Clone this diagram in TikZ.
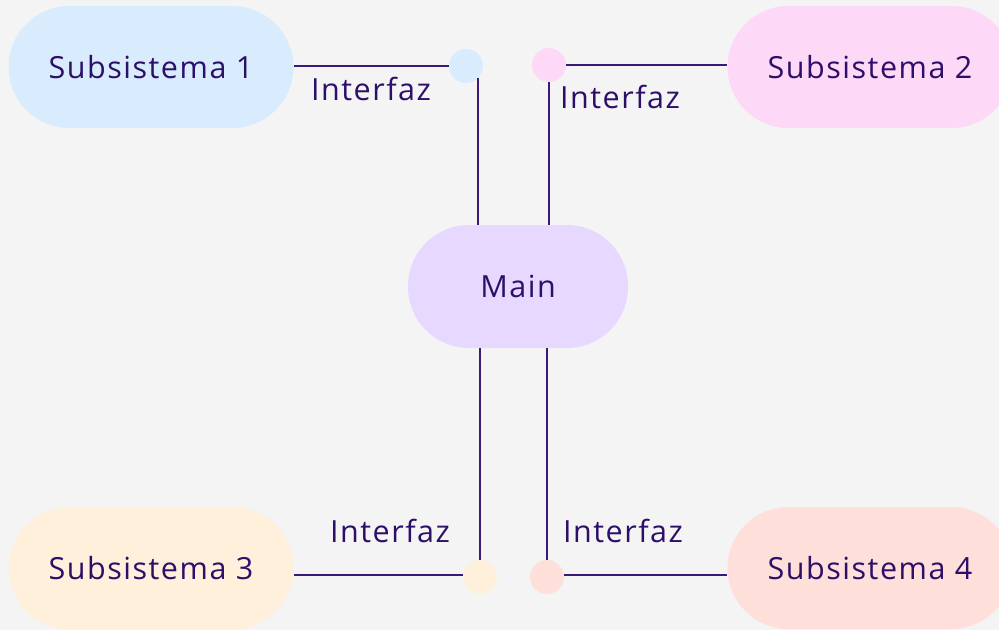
\documentclass[tikz,border=0pt]{standalone}
\usepackage{fontspec}
\setmainfont{Open Sans}[LetterSpace=5]
\begin{document}
\begin{tikzpicture}[x=1pt,y=-1pt,
  txt/.style={text=textc,font=\fontsize{30.5}{35}\selectfont},
  pill/.style={txt,rectangle,rounded corners=61pt,minimum width=285pt,minimum height=122pt,inner sep=0pt},
  dot/.style={circle,minimum size=34pt,inner sep=0pt},
  conn/.style={draw=linec,line width=2pt},
  lab/.style={txt,inner sep=0pt}]
\definecolor{bgc}{HTML}{F4F4F4}
\definecolor{textc}{HTML}{2D0F6A}
\definecolor{linec}{HTML}{3A1A78}
\definecolor{c1}{HTML}{D8ECFD}
\definecolor{c2}{HTML}{FDD8F7}
\definecolor{cm}{HTML}{E6D8FF}
\definecolor{c3}{HTML}{FEF0DB}
\definecolor{c4}{HTML}{FEDFDA}
\fill[bgc] (0,0) rectangle (999,630);
\useasboundingbox (0,0) rectangle (999,630);
% nodes
\node[pill,fill=c1] (s1) at (151,67) {Subsistema 1};
\node[pill,fill=c2] (s2) at (870,67) {Subsistema 2};
\node[pill,fill=c3] (s3) at (151,568) {Subsistema 3};
\node[pill,fill=c4] (s4) at (870,568) {Subsistema 4};
\node[pill,fill=cm,minimum width=220pt,minimum height=123pt,rounded corners=61pt] (m) at (518,286.5) {Main};
\node[dot,fill=c1] (d1) at (466,66) {};
\node[dot,fill=c2] (d2) at (549,65) {};
\node[dot,fill=c3] (d3) at (480,577) {};
\node[dot,fill=c4] (d4) at (547,577) {};
% labels
\node[lab] (l1) at (371,89) {Interfaz};
\node[lab] (l2) at (620,97) {Interfaz};
\node[lab] (l3) at (390,531) {Interfaz};
\node[lab] (l4) at (623,531) {Interfaz};
% connectors
\draw[conn] (s1.east |- d1.west) -- (d1.west);
\draw[conn] (d1.-45) -- (d1.-45 |- m.north);
\draw[conn] (d2.east) -- (d2.east -| s2.west);
\draw[conn] (d2.south) -- (d2.south |- m.north);
\draw[conn] ([yshift=2pt]d3.west) -- ([yshift=2pt]d3.west -| s3.east);
\draw[conn] (d3.north |- m.south) -- (d3.north);
\draw[conn] ([yshift=2pt]d4.east) -- ([yshift=2pt]d4.east -| s4.west);
\draw[conn] (d4.north |- m.south) -- (d4.north);
\end{tikzpicture}
\end{document}
